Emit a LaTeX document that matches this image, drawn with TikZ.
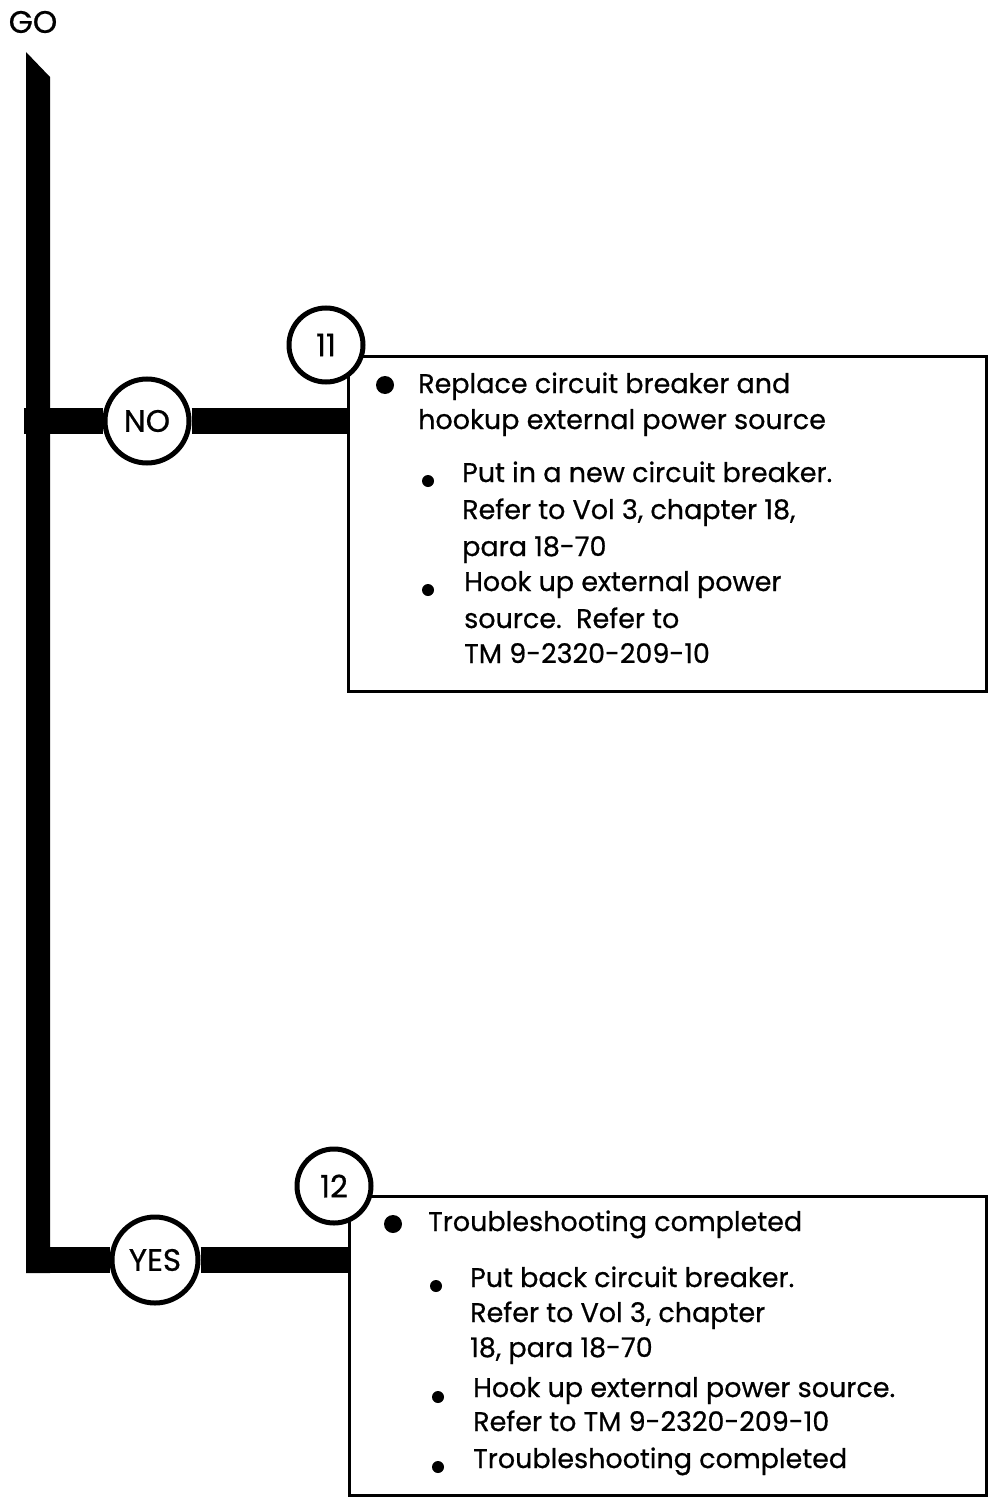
\documentclass[tikz,border=0pt]{standalone}
\usepackage{fontspec}
\setmainfont{Poppins}[FakeBold=0.6]
\usetikzlibrary{backgrounds}
\begin{document}
\begin{tikzpicture}[x=1pt,y=-1pt,
  txt/.style={font=\fontsize{27}{30}\selectfont, anchor=base west, inner sep=0pt},
  lbl/.style={circle, draw, line width=5pt, fill=white, inner sep=0pt, font=\fontsize{31}{32}\selectfont},
  bigdot/.style={circle, fill=black, inner sep=0pt, minimum size=18pt},
  smalldot/.style={circle, fill=black, inner sep=0pt, minimum size=12pt},
  frame/.style={draw, line width=3pt, inner sep=0pt, anchor=north west},
  bar/.style={line width=26pt}]
\useasboundingbox (0,0) rectangle (992,1498);

\node[font=\fontsize{31}{32}\selectfont] (go) at (33,22) {GO};

% boxes
\node[frame, minimum width=638pt, minimum height=335pt] (box1) at (347,355) {};
\node[frame, minimum width=637pt, minimum height=299pt] (box2) at (348,1195) {};

% circles
\node[lbl, minimum size=84pt] (no) at (147,421) {NO};
\node[lbl, minimum size=74pt] (n11) at (326,345) {11};
\node[lbl, minimum size=86pt] (yes) at (155,1260) {YES};
\node[lbl, minimum size=74pt] (n12) at (334,1186) {12};

\coordinate (spinetl) at (26,52);
\coordinate (spinetr) at (50,77);
\coordinate (nojoin) at (24,421);
\coordinate (yesjoin) at (26,1260);

\begin{scope}[on background layer]
  \fill (spinetl) -- (spinetr) -- (50,1273) -- (26,1273) -- cycle;
  \draw[bar] (nojoin) -- (no) -- (box1.west |- no);
  \draw[bar] (yesjoin) -- (yes) -- (box2.west |- yes);
\end{scope}

% box 1 text
\node[bigdot] (d1) at (385,385) {};
\node[txt] (t1a) at (418,393) {Replace circuit breaker and};
\node[txt] (t1b) at (418,429) {hookup external power source};
\node[smalldot] (d2) at (428,481) {};
\node[txt] (t1c) at (462,482) {Put in a new circuit breaker.};
\node[txt] (t1d) at (462,519) {Refer to Vol 3, chapter 18,};
\node[txt] (t1e) at (462,556) {para 18-70};
\node[smalldot] (d3) at (428,590) {};
\node[txt] (t1f) at (464,591) {Hook up external power};
\node[txt] (t1g) at (464,628) {source.\ \ Refer to};
\node[txt] (t1h) at (464,663) {TM 9-2320-209-10};

% box 2 text
\node[bigdot] (d4) at (393,1224) {};
\node[txt] (t2a) at (428,1231) {Troubleshooting completed};
\node[smalldot] (d5) at (436,1286) {};
\node[txt] (t2b) at (470,1287) {Put back circuit breaker.};
\node[txt] (t2c) at (470,1322) {Refer to Vol 3, chapter};
\node[txt] (t2d) at (470,1357) {18, para 18-70};
\node[smalldot] (d6) at (438,1397) {};
\node[txt] (t2e) at (473,1397) {Hook up external power source.};
\node[txt] (t2f) at (473,1431) {Refer to TM 9-2320-209-10};
\node[smalldot] (d7) at (438,1467) {};
\node[txt] (t2g) at (473,1468) {Troubleshooting completed};
\end{tikzpicture}
\end{document}
